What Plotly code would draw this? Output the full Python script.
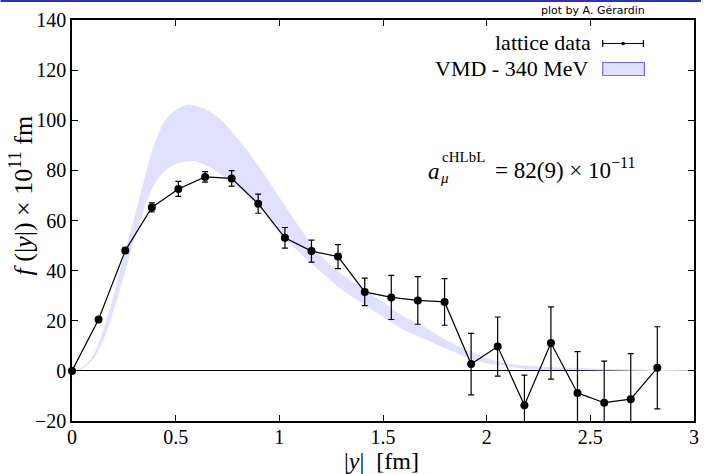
import plotly.graph_objects as go

# ---------------- data ----------------
y_abs = [0.000, 0.128, 0.257, 0.385, 0.513, 0.642, 0.770, 0.898, 1.027, 1.155,
         1.283, 1.412, 1.540, 1.668, 1.797, 1.925, 2.053, 2.182, 2.310, 2.438,
         2.567, 2.695, 2.823]
f_lat = [0.0, 20.5, 48.0, 65.2, 72.6, 77.4, 76.8, 66.7, 53.1, 47.8,
         45.6, 31.5, 29.3, 28.1, 27.5, 2.7, 9.7, -13.7, 11.1, -8.8,
         -12.7, -11.3, 1.2]
f_err = [0.0, 0.8, 1.0, 1.8, 3.0, 2.1, 3.1, 3.8, 4.1, 4.4,
         4.8, 5.5, 8.8, 9.5, 9.3, 12.3, 11.8, 12.0, 14.4, 16.5,
         16.6, 18.2, 16.4]

vmd_x = [0.0, 0.05, 0.1, 0.15, 0.2, 0.25, 0.3, 0.35, 0.4, 0.45, 0.5, 0.55, 0.6,
         0.7, 0.8, 0.9, 1.0, 1.1, 1.2, 1.3, 1.4, 1.5, 1.6, 1.7, 1.8, 1.9,
         2.0, 2.1, 2.2, 2.4, 2.6, 2.8, 3.0]
vmd_hi = [0.0, 1.5, 6.0, 16.0, 30.0, 46.0, 61.0, 77.0, 91.0, 100.0, 104.0, 106.0, 105.8,
          101.5, 92.5, 81.6, 69.3, 57.0, 46.0, 38.7, 33.0, 27.5, 21.7, 17.5, 12.5, 8.5,
          5.0, 3.0, 2.0, 1.2, 0.7, 0.4, 0.2]
vmd_lo = [0.0, 0.8, 4.5, 12.0, 24.0, 38.0, 52.0, 65.0, 75.0, 80.0, 82.5, 83.5, 83.5,
          79.5, 73.0, 65.6, 55.0, 47.0, 39.5, 32.5, 27.0, 21.5, 16.4, 12.7, 9.0, 5.5,
          3.0, 1.8, 0.6, 0.3, 0.1, 0.0, 0.0]

x_ticks = [0, 0.5, 1, 1.5, 2, 2.5, 3]
x_ticktext = ["0", "0.5", "1", "1.5", "2", "2.5", "3"]
y_ticks = [-20, 0, 20, 40, 60, 80, 100, 120, 140]
y_ticktext = ["\u221220", "0", "20", "40", "60", "80", "100", "120", "140"]

# ---------------- geometry helpers (pixel -> paper) ----------------
L, T, W, H = 72, 20, 627, 401
def px(X):
    return (X - L) / W
def py(Y):
    return (T + H - Y) / H

SERIF = "Liberation Serif"
BAND = "rgb(224,224,255)"

fig = go.Figure()

# VMD band
fig.add_trace(go.Scatter(x=vmd_x, y=vmd_lo, mode="lines", line=dict(width=0, shape="spline"),
                         hoverinfo="skip"))
fig.add_trace(go.Scatter(x=vmd_x, y=vmd_hi, mode="lines", line=dict(width=0, shape="spline"),
                         fill="tonexty", fillcolor=BAND, hoverinfo="skip"))

# lattice data: line + error bars (clipped)
fig.add_trace(go.Scatter(x=y_abs, y=f_lat, mode="lines",
                         line=dict(color="black", width=1.2),
                         error_y=dict(type="data", array=f_err, visible=True,
                                      color="black", thickness=1.2, width=3)))
# markers (not clipped)
fig.add_trace(go.Scatter(x=y_abs, y=f_lat, mode="markers", cliponaxis=False,
                         marker=dict(color="black", size=8)))

axis_common = dict(showline=True, linecolor="black", linewidth=1.5, mirror="ticks",
                   ticks="inside", ticklen=6, tickwidth=1, tickcolor="black",
                   showgrid=False, tickfont=dict(family=SERIF, size=20, color="black"))

fig.update_xaxes(range=[0, 3], tickvals=x_ticks, ticktext=x_ticktext, zeroline=False,
                 **axis_common)
fig.update_yaxes(range=[-20, 140], tickvals=y_ticks, ticktext=y_ticktext,
                 zeroline=True, zerolinecolor="black", zerolinewidth=1, **axis_common)

ann = []
# axis titles
ann.append(dict(x=px(384), y=py(461), xref="paper", yref="paper", showarrow=False,
                text="|<i>y</i>|  [fm]", font=dict(family=SERIF, size=24, color="black"),
                xanchor="center", yanchor="middle", borderpad=0))
ann.append(dict(x=px(21), y=py(195), xref="paper", yref="paper", showarrow=False,
                textangle=-90,
                text="<i>f</i> (|<i>y</i>|) × 10<sup>11</sup> fm",
                font=dict(family=SERIF, size=26, color="black"),
                xanchor="center", yanchor="middle"))
# credit
ann.append(dict(x=px(652), y=py(10), xref="paper", yref="paper", showarrow=False,
                text="plot by A. Gérardin", font=dict(family="DejaVu Sans", size=11, color="black"),
                xanchor="right", yanchor="middle"))
# legend texts
ann.append(dict(x=px(597), y=py(43), xref="paper", yref="paper", showarrow=False,
                text="lattice data", font=dict(family=SERIF, size=22, color="black"),
                xanchor="right", yanchor="middle"))
ann.append(dict(x=px(594), y=py(68), xref="paper", yref="paper", showarrow=False,
                text="VMD - 340 MeV", font=dict(family=SERIF, size=22, color="black"),
                xanchor="right", yanchor="middle"))
# a_mu annotation
ann.append(dict(x=px(643), y=py(168), xref="paper", yref="paper", showarrow=False,
                text="= 82(9) × 10<sup>\u221211</sup>",
                font=dict(family=SERIF, size=23, color="black"),
                xanchor="right", yanchor="middle"))
ann.append(dict(x=px(437), y=py(171), xref="paper", yref="paper", showarrow=False,
                text="<i>a</i>", font=dict(family=SERIF, size=23, color="black"),
                xanchor="center", yanchor="middle"))
ann.append(dict(x=px(447), y=py(178), xref="paper", yref="paper", showarrow=False,
                text="<i>μ</i>", font=dict(family=SERIF, size=15, color="black"),
                xanchor="center", yanchor="middle"))
ann.append(dict(x=px(443), y=py(157), xref="paper", yref="paper", showarrow=False,
                text="cHLbL", font=dict(family=SERIF, size=15, color="black"),
                xanchor="left", yanchor="middle"))

shapes = []
# top blue frame line
shapes.append(dict(type="line", xref="paper", yref="paper", x0=px(0), x1=px(706),
                   y0=py(1), y1=py(1), line=dict(color="rgb(50,50,170)", width=2)))
# legend: error-bar glyph
gx0, gx1, gy = 607, 648, 43.5
shapes.append(dict(type="line", xref="paper", yref="paper", x0=px(gx0), x1=px(gx1),
                   y0=py(gy), y1=py(gy), line=dict(color="black", width=1.2)))
for gx in (gx0, gx1):
    shapes.append(dict(type="line", xref="paper", yref="paper", x0=px(gx), x1=px(gx),
                       y0=py(gy - 3.5), y1=py(gy + 3.5), line=dict(color="black", width=1.2)))
cx = (gx0 + gx1) / 2
shapes.append(dict(type="circle", xref="paper", yref="paper", x0=px(cx - 1.8), x1=px(cx + 1.8),
                   y0=py(gy - 1.8), y1=py(gy + 1.8), fillcolor="black",
                   line=dict(color="black", width=0)))
# legend: band box
shapes.append(dict(type="rect", xref="paper", yref="paper", x0=px(607), x1=px(649),
                   y0=py(62.5), y1=py(75.5), fillcolor=BAND,
                   line=dict(color="rgb(110,110,245)", width=1.2)))

fig.update_layout(width=706, height=474, margin=dict(l=L, r=706 - L - W, t=T, b=474 - T - H),
                  plot_bgcolor="white", paper_bgcolor="white", showlegend=False,
                  annotations=ann, shapes=shapes)
fig.update_xaxes(ticklabelstandoff=-3)

fig.write_html("out.html")
